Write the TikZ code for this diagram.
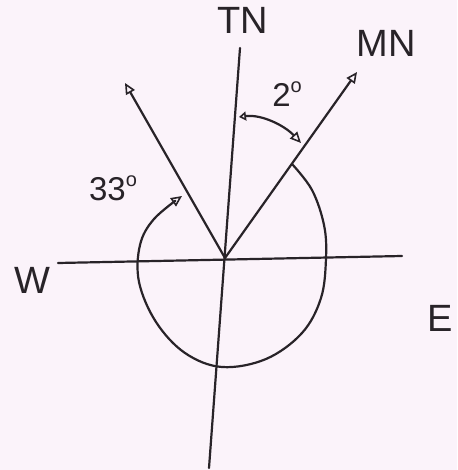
\documentclass[tikz,border=0pt]{standalone}
\usepackage{fontspec}
\setmainfont{Liberation Sans}
\usetikzlibrary{arrows.meta}
\definecolor{paper}{RGB}{251,243,250}
\definecolor{ink}{RGB}{40,35,40}
\newcommand{\degsym}{\raisebox{0.42em}{\fontsize{20}{20}\selectfont o}}
\tikzset{
  pen/.style={draw=ink, line width=2.2pt, line cap=round, line join=round},
  tip/.style={-{Triangle[open, length=11pt, width=10pt, line width=1.6pt]}},
  lbl/.style={text=ink, inner sep=0pt, font=\fontsize{38}{38}\selectfont},
  ang/.style={text=ink, inner sep=0pt, font=\fontsize{33}{33}\selectfont},
}
\begin{document}
\begin{tikzpicture}[x=1pt,y=-1pt]
\useasboundingbox (0,0) rectangle (457,470);
\fill[paper] (0,0) rectangle (457,470);
% named points
\coordinate (O) at (225,258);
\coordinate (Ntop) at (240,48);
\coordinate (Sbot) at (209,468);
\coordinate (Wend) at (58,263);
\coordinate (Eend) at (402,256);
\coordinate (MNtip) at (357,72);
\coordinate (NWtip) at (125,83);
% axes
\draw[pen] (Ntop) -- (Sbot);
\draw[pen] (Wend) -- (Eend);
% bearing lines
\draw[pen, tip] (O) -- (MNtip);
\draw[pen, tip] (O) -- (NWtip);
% 2 degree arc
\coordinate (a1) at (239,117);
\coordinate (a2) at (301,143);
\draw[pen, {Triangle[open, length=7pt, width=9pt, line width=1.6pt]}-{Triangle[open, length=11pt, width=10pt, line width=1.6pt]}]
  (a1) .. controls (262,114) and (285,126) .. (a2);
% large reflex arc
\draw[pen, tip] plot[smooth, tension=0.6] coordinates {
  (292,164) (312,190) (324,225) (326,258) (321,298) (302,333) (266,359)
  (222,367) (185,353) (156,322) (139,282) (140,245) (154,219) (182,196)};
% labels
\node[lbl] (TN) at (243,20) {TN};
\node[lbl] (MN) at (386,43) {MN};
\node[lbl] (W) at (32,280) {W};
\node[lbl] (E) at (440,318) {E};
\node[ang] (two) at (287,94) {2\degsym};
\node[ang] (thirty) at (113,188) {33\degsym};
\end{tikzpicture}
\end{document}
